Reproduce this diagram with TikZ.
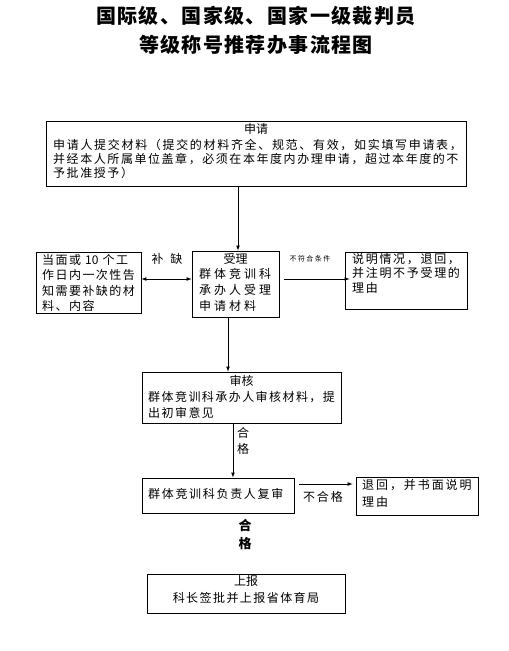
\documentclass[tikz,border=0pt]{standalone}
\usepackage{fontspec}
\setmainfont{Noto Sans CJK SC}
\usepackage{tikz}
\usetikzlibrary{arrows}
\newcommand\spaced[1]{\addfontfeature{LetterSpace=#1}}

\begin{document}
\begin{tikzpicture}[x=1pt,y=-1pt,>=latex,
    box/.style={draw,line width=.8pt,inner sep=0pt},
    txt/.style={inner sep=0pt,anchor=north west,align=left},
    head/.style={inner sep=0pt,anchor=north},
    arr/.style={->,line width=.7pt}]
    \useasboundingbox (0,0) rectangle (509,651);
    % title
    \node[inner sep=0pt,font=\fontsize{20}{24}\selectfont\bfseries] (t1) at (256,16) {\spaced{7}国际级、国家级、国家一级裁判员};
    \node[inner sep=0pt,font=\fontsize{20}{24}\selectfont\bfseries] (t2) at (256,45) {\spaced{7}等级称号推荐办事流程图};
    % boxes
    \node[box,minimum width=420pt,minimum height=65pt] (sq) at (256,153.5) {};
    \node[box,minimum width=87pt,minimum height=66pt] (sl) at (235.5,284) {};
    \node[box,minimum width=105pt,minimum height=61pt] (bq) at (88.5,282.5) {};
    \node[box,minimum width=122pt,minimum height=57pt] (bt) at (406,280.5) {};
    \node[box,minimum width=199pt,minimum height=51pt] (sh) at (241.5,397.5) {};
    \node[box,minimum width=152pt,minimum height=35pt] (fs) at (218,495.5) {};
    \node[box,minimum width=122pt,minimum height=38pt] (th) at (417,496) {};
    \node[box,minimum width=198pt,minimum height=39pt] (sb) at (246,593.5) {};
    % texts
    \begin{scope}[font=\fontsize{12}{14}\selectfont]
    \node[head] (sq-h) at (256,123) {申请};
    \node[txt] (sq-t) at (53,139) {\spaced{14}申请人提交材料（提交的材料齐全、规范、有效，如实填写申请表，\\
      \spaced{13}并经本人所属单位盖章，必须在本年度内办理申请，超过本年度的不\\
      \spaced{13}予批准授予）};
    \node[txt,font=\fontsize{12}{15.5}\selectfont] (bq-t) at (42,254) {\spaced{12}当面或 {\spaced{0}10} 个工\\ \spaced{12}作日内一次性告\\
      \spaced{12}知需要补缺的材\\ \spaced{12}料、内容};
    \node[head] (sl-h) at (235.5,253) {受理};
    \node[txt,font=\fontsize{12}{16}\selectfont] (sl-t) at (199,268) {\spaced{25}群体竞训科\\ \spaced{25}承办人受理\\ \spaced{25}申请材料};
    \node[txt,font=\fontsize{12}{14.5}\selectfont] (bt-t) at (352,253) {\spaced{14}说明情况，退回，\\ \spaced{14}并注明不予受理的\\ \spaced{14}理由};
    \node[head] (sh-h) at (241.5,375) {审核};
    \node[txt,font=\fontsize{12}{16}\selectfont] (sh-t) at (148,391) {\spaced{12}群体竞训科承办人审核材料，提\\ \spaced{12}出初审意见};
    \node[txt] (fs-t) at (148,488) {\spaced{14}群体竞训科负责人复审};
    \node[txt,font=\fontsize{12}{17}\selectfont] (th-t) at (362,479) {\spaced{16}退回，并书面说明\\ \spaced{16}理由};
    \node[head] (sb-h) at (246,575) {上报};
    \node[head] (sb-t) at (246,592) {\spaced{12}科长签批并上报省体育局};
    \end{scope}
    % connectors
    \draw[arr] ([xshift=2.5pt]sl.north |- sq.south) -- ([xshift=2.5pt]sl.north);
    \draw[<->,line width=.7pt] ([yshift=3.5pt]bq.east) -- ([yshift=3.5pt]bq.east -| sl.west);
    \draw[arr] ([shift={(5pt,5pt)}]sl.east) -- ([shift={(5pt,5pt)}]sl.east -| bt.west);
    \draw[arr] ([xshift=-7.5pt]sl.south) -- ([xshift=-7.5pt]sl.south |- sh.north);
    \draw[arr] ([xshift=-8.5pt]sh.south) -- ([xshift=-8.5pt]sh.south |- fs.north);
    \draw[arr] ([shift={(5pt,11.5pt)}]fs.east) -- ([shift={(-3pt,11.5pt)}]fs.east -| th.west);
    % labels
    \node[head,font=\fontsize{12}{14}\selectfont] (bu) at (167,253) {补\hspace{7pt}缺};
    \node[head,font=\fontsize{7}{8}\selectfont] (bfh) at (310,255) {\spaced{20}不符合条件};
    \node[head,font=\fontsize{12}{16}\selectfont,align=center] (hg1) at (243,427) {合\\格};
    \node[head,font=\fontsize{12}{14}\selectfont] (bhg) at (323,491) {\spaced{16}不合格};
    \node[head,font=\fontsize{13}{18}\selectfont\bfseries,align=center] (hg2) at (245,519) {合\\格};
\end{tikzpicture}
\end{document}
